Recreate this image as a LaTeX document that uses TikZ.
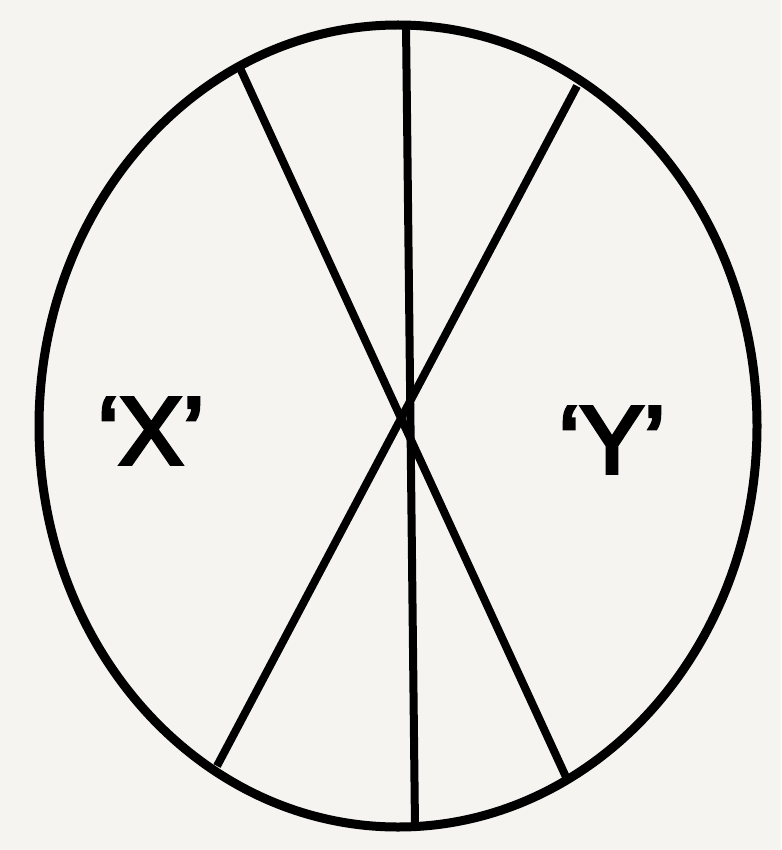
\documentclass[tikz,border=0pt]{standalone}
\usepackage{fontspec}
\setmainfont{Liberation Sans}
\newfontfamily\lblfont[FakeBold=4]{Liberation Sans}
\definecolor{bg}{HTML}{F5F4F1}
\begin{document}
\begin{tikzpicture}[x=1pt,y=-1pt,
  rim/.style={line width=9pt,black},
  chord/.style={line width=8pt,black},
  lbl/.style={font=\lblfont\fontsize{96}{100}\selectfont,inner sep=0pt}]
\fill[bg] (0,0) rectangle (781,850);
\useasboundingbox (0,0) rectangle (781,850);
\draw[rim] (398,426) ellipse [x radius=359, y radius=401];
\coordinate (t) at (406,25);
\coordinate (b) at (415,827);
\coordinate (tl) at (240,68);
\coordinate (br) at (566,777);
\coordinate (tr) at (577,86);
\coordinate (bl) at (217,766);
\draw[chord] (t) -- (b);
\draw[chord] (tl) -- (br);
\draw[chord] (tr) -- (bl);
\node[lbl] (x) at (151,431) {‘X’};
\node[lbl] (y) at (612,440) {‘Y’};
\end{tikzpicture}
\end{document}
